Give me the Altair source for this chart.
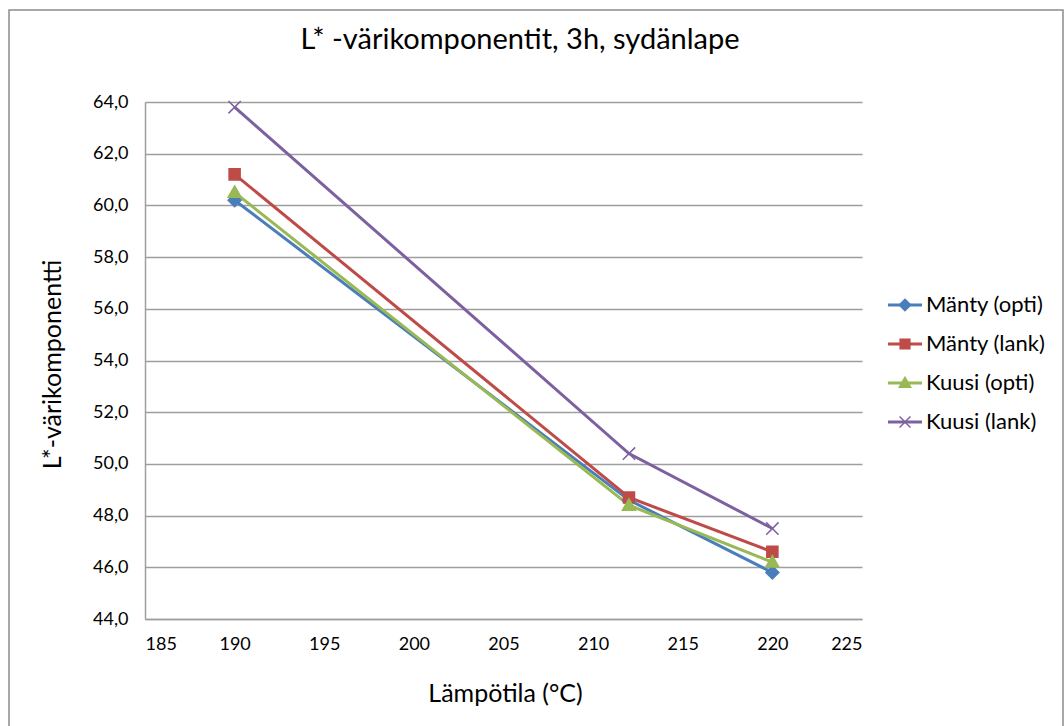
import altair as alt
import pandas as pd

temps = [190, 212, 220]
series_names = ["Mänty (opti)", "Mänty (lank)", "Kuusi (opti)", "Kuusi (lank)"]
manty_opti = [60.2, 48.6, 45.8]
manty_lank = [61.2, 48.7, 46.6]
kuusi_opti = [60.5, 48.4, 46.2]
kuusi_lank = [63.8, 50.4, 47.5]
series_values = [manty_opti, manty_lank, kuusi_opti, kuusi_lank]
colors = ["#4A7EBB", "#BE4B48", "#98B954", "#7D60A0"]
x_ticks = [185, 190, 195, 200, 205, 210, 215, 220, 225]
y_ticks = [44, 46, 48, 50, 52, 54, 56, 58, 60, 62, 64]
title_text = "L* -värikomponentit, 3h, sydänlape"

marker_paths = [
    "M0,-1L1,0L0,1L-1,0Z",
    "M-0.85,-0.85H0.85V0.85H-0.85Z",
    "M0,-1L1,0.75H-1Z",
    "M-0.95,-0.95L0.95,0.95M-0.95,0.95L0.95,-0.95",
]

rows = []
for name, vals in zip(series_names, series_values):
    for t, v in zip(temps, vals):
        rows.append({"series": name, "temp": t, "value": v})
df = pd.DataFrame(rows)
legend_df = pd.DataFrame({"series": series_names})

FONT = "Lato"

color_scale = alt.Scale(domain=series_names, range=colors)

x_enc = alt.X(
    "temp:Q",
    scale=alt.Scale(domain=[185, 225], nice=False, zero=False),
    axis=alt.Axis(
        values=x_ticks,
        format="d",
        title="Lämpötila (°C)",
        grid=False,
        ticks=False,
        domainColor="#9e9e9e",
        domainWidth=1.5,
        labelFont=FONT,
        labelFontSize=18,
        labelColor="#000000",
        labelPadding=16,
        titleFont=FONT,
        titleFontSize=25,
        titleFontWeight="normal",
        titleColor="#000000",
        titleX=360,
        titleY=74,
        titleBaseline="middle",
    ),
)
y_enc = alt.Y(
    "value:Q",
    scale=alt.Scale(domain=[44, 64], nice=False, zero=False),
    axis=alt.Axis(
        values=y_ticks,
        labelExpr="replace(format(datum.value, '.1f'), '.', ',')",
        title="L*-värikomponentti",
        grid=True,
        gridColor="#9e9e9e",
        gridWidth=1.3,
        ticks=False,
        domainColor="#9e9e9e",
        domainWidth=1.5,
        labelFont=FONT,
        labelFontSize=18,
        labelColor="#000000",
        labelPadding=17,
        titleFont=FONT,
        titleFontSize=25,
        titleFontWeight="normal",
        titleColor="#000000",
        titleAngle=270,
        titleX=-93,
        titleY=262,
        titleBaseline="middle",
    ),
)

lines = alt.Chart(df).mark_line(strokeWidth=3).encode(
    x=x_enc,
    y=y_enc,
    color=alt.Color("series:N", scale=color_scale, legend=None),
)

point_layers = []
for name, col, path in zip(series_names, colors, marker_paths):
    point_layers.append(
        alt.Chart(df)
        .transform_filter(alt.datum.series == name)
        .mark_point(filled=True, shape=path, size=169, fill=col, stroke=col,
                    strokeWidth=1.5, opacity=1)
        .encode(x="temp:Q", y="value:Q")
    )

border = alt.Chart(pd.DataFrame({"a": [0]})).mark_rect(
    fill="transparent", stroke="#8c8c8c", strokeWidth=1.5
).encode(
    x=alt.value(-136), x2=alt.value(918), y=alt.value(-92), y2=alt.value(640)
)

title_mark = alt.Chart(pd.DataFrame({"t": [title_text]})).mark_text(
    font=FONT, fontSize=29, color="#000000", align="center", baseline="middle"
).encode(x=alt.value(375), y=alt.value(-62), text="t:N")

main = alt.layer(border, lines, *point_layers, title_mark)

# legend drawn as marks (line segment + marker + label per series)
leg_y = alt.Y(
    "series:N",
    sort=series_names,
    scale=alt.Scale(type="point", domain=series_names, range=[203, 320], padding=0),
    axis=None,
)
leg_lines = alt.Chart(legend_df).mark_rule(strokeWidth=3).encode(
    x=alt.value(743), x2=alt.value(777), y=leg_y,
    color=alt.Color("series:N", scale=color_scale, legend=None),
)
leg_marks = alt.Chart(legend_df).mark_point(filled=True, size=130, strokeWidth=1.5, opacity=1).encode(
    x=alt.value(760), y=leg_y,
    shape=alt.Shape("series:N", scale=alt.Scale(domain=series_names, range=marker_paths), legend=None),
    fill=alt.Fill("series:N", scale=color_scale, legend=None),
    stroke=alt.Stroke("series:N", scale=color_scale, legend=None),
)
leg_text = alt.Chart(legend_df).mark_text(
    font=FONT, fontSize=22, color="#000000", align="left", baseline="middle"
).encode(x=alt.value(781), y=leg_y, text="series:N")
legend_layer = alt.layer(leg_lines, leg_marks, leg_text)

chart = alt.layer(main, legend_layer).resolve_scale(y="independent").properties(
    width=717,
    height=517,
    padding={"left": 145, "top": 102, "right": 202, "bottom": 107},
    autosize=alt.AutoSizeParams(type="none"),
    background="white",
).configure_view(strokeWidth=0)

chart.save("out.html", embed_options={"renderer": "svg", "actions": False})
